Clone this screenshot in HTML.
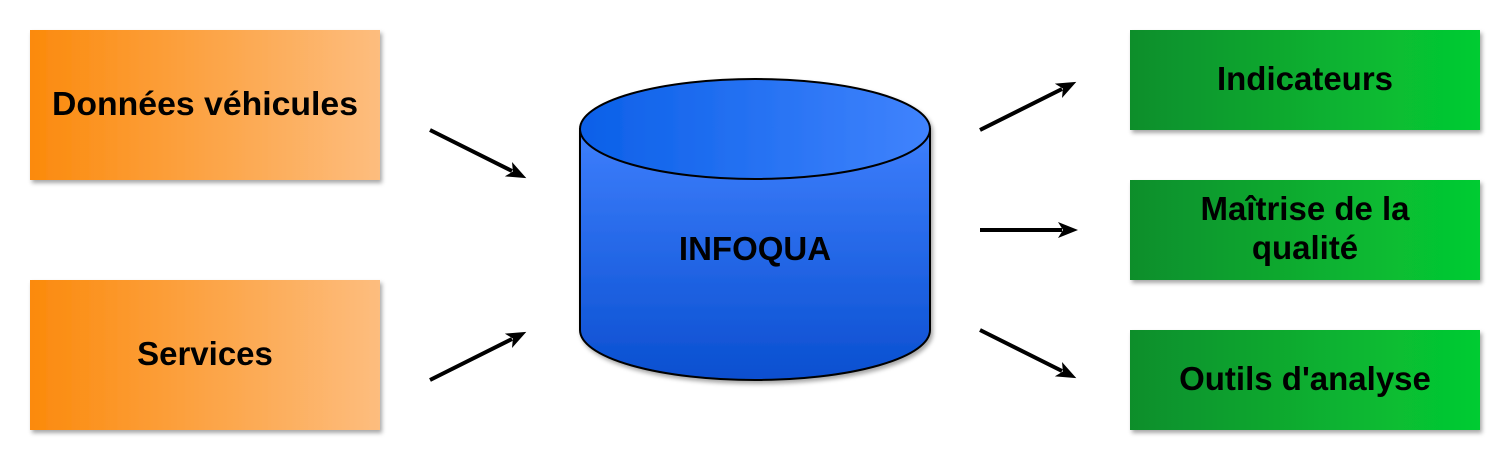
<!DOCTYPE html>
<html><head><meta charset="utf-8"><style>
html,body{margin:0;padding:0;background:#fff;width:1510px;height:460px;overflow:hidden}
svg text{font-family:"Liberation Sans",sans-serif;font-weight:bold;fill:#000}
</style></head><body>
<svg width="1510" height="460" xmlns="http://www.w3.org/2000/svg">
<defs>
<linearGradient id="or" x1="0" x2="1" y1="0" y2="0"><stop offset="0" stop-color="#fb8a0c"/><stop offset="1" stop-color="#fdbd7e"/></linearGradient>
<linearGradient id="gr" x1="0" x2="1" y1="0" y2="0"><stop offset="0" stop-color="#0e8e2c"/><stop offset="1" stop-color="#05cc33"/></linearGradient>
<linearGradient id="body" x1="0" x2="0" y1="0" y2="1"><stop offset="0" stop-color="#3e7ffd"/><stop offset="1" stop-color="#0a4fd0"/></linearGradient>
<linearGradient id="top" x1="0" x2="1" y1="0" y2="0"><stop offset="0" stop-color="#0b60e8"/><stop offset="1" stop-color="#4083fd"/></linearGradient>
<filter id="sh" x="-10%" y="-10%" width="130%" height="130%"><feDropShadow dx="2" dy="3" stdDeviation="2" flood-color="#000" flood-opacity="0.35"/></filter>
<marker id="ah" markerWidth="20" markerHeight="16" refX="4" refY="8" orient="auto" markerUnits="userSpaceOnUse" viewBox="0 0 20 16"><path d="M0,0 L20,8 L0,16 L5,8 z" fill="#000"/></marker>
</defs>
<g filter="url(#sh)">
<rect x="30" y="30" width="350" height="150" fill="url(#or)"/>
<rect x="30" y="280" width="350" height="150" fill="url(#or)"/>
<rect x="1130" y="30" width="350" height="100" fill="url(#gr)"/>
<rect x="1130" y="180" width="350" height="100" fill="url(#gr)"/>
<rect x="1130" y="330" width="350" height="100" fill="url(#gr)"/>
<path d="M580,129 L580,330 A175,50 0 0 0 930,330 L930,129 Z" fill="url(#body)" stroke="#000" stroke-width="2"/>
<ellipse cx="755" cy="129" rx="175" ry="50" fill="url(#top)" stroke="#000" stroke-width="2"/>
</g>
<g style="font-size:33px;font-weight:bold;text-anchor:middle">
<text x="205" y="115" textLength="306" lengthAdjust="spacingAndGlyphs">Données véhicules</text>
<text x="205" y="365">Services</text>
<text x="1305" y="90">Indicateurs</text>
<text x="1305" y="220">Maîtrise de la</text>
<text x="1305" y="259">qualité</text>
<text x="1305" y="390">Outils d'analyse</text>
<text x="755" y="260">INFOQUA</text>
</g>
<g stroke="#000" stroke-width="4" marker-end="url(#ah)">
<line x1="430" y1="130" x2="512" y2="171"/>
<line x1="430" y1="380" x2="512" y2="339"/>
<line x1="980" y1="130" x2="1062" y2="89"/>
<line x1="980" y1="230" x2="1062" y2="230"/>
<line x1="980" y1="330" x2="1062" y2="371"/>
</g>
</svg>
</body></html>
